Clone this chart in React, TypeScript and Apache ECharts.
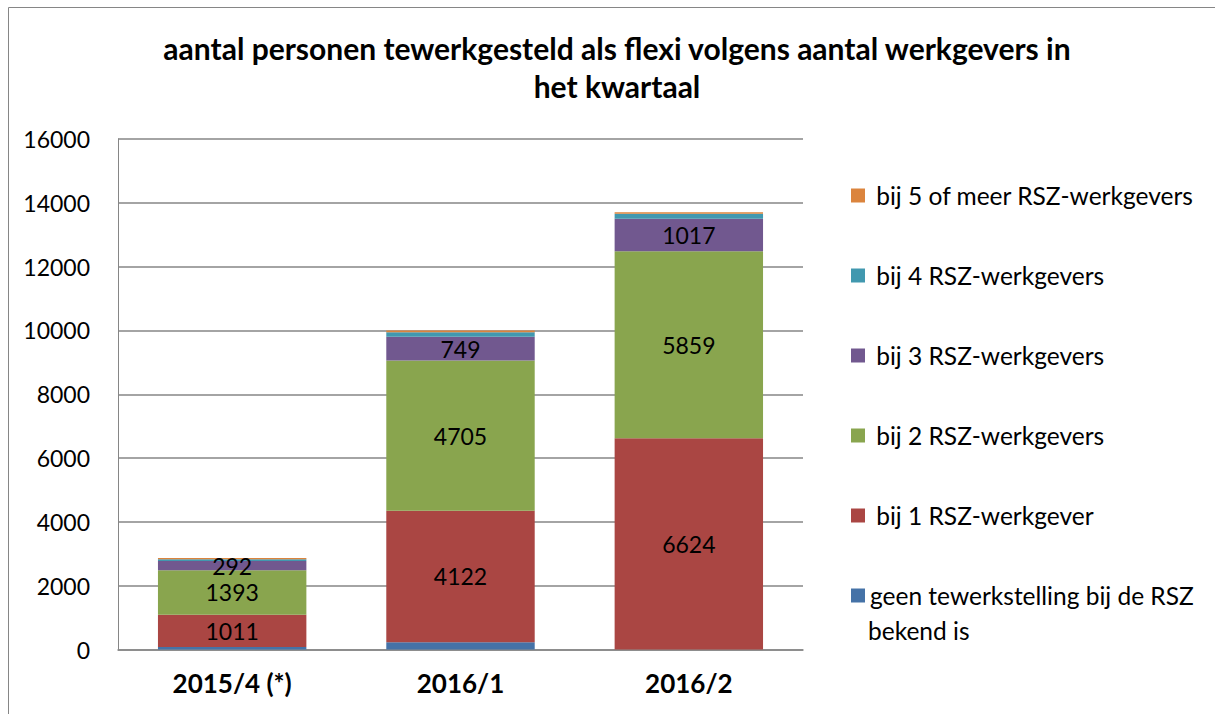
import React, { useEffect, useRef } from "react";
import * as echarts from "echarts";

const categories = ["2015/4 (*)", "2016/1", "2016/2"];
const seriesNames = [
  "geen tewerkstelling bij de RSZ bekend is",
  "bij 1 RSZ-werkgever",
  "bij 2 RSZ-werkgevers",
  "bij 3 RSZ-werkgevers",
  "bij 4 RSZ-werkgevers",
  "bij 5 of meer RSZ-werkgevers",
];
const geenValues = [80, 230, 0];
const bij1Values = [1011, 4122, 6624];
const bij2Values = [1393, 4705, 5859];
const bij3Values = [292, 749, 1017];
const bij4Values = [55, 140, 155];
const bij5Values = [40, 55, 50];
const labelled = [false, true, true, true, false, false];
const colors = ["#4572A7", "#AA4643", "#89A54E", "#71588F", "#4198AF", "#DB843D"];
const yTicks = { min: 0, max: 16000, interval: 2000 };
const titleText =
  "aantal personen tewerkgesteld als flexi volgens aantal werkgevers in\nhet kwartaal";

const FONT = "Lato, 'Open Sans', sans-serif";

export default function App() {
  const ref = useRef<HTMLDivElement>(null);
  useEffect(() => {
    if (!ref.current) return;
    const chart = echarts.init(ref.current, undefined, { renderer: "svg" });
    const allValues = [geenValues, bij1Values, bij2Values, bij3Values, bij4Values, bij5Values];
    const series = allValues.map((vals, i) => ({
      name: seriesNames[i],
      type: "bar",
      stack: "total",
      barWidth: "65%",
      data: vals,
      itemStyle: { color: colors[i] },
      label: labelled[i]
        ? {
            show: true,
            position: "inside",
            color: "#000",
            fontFamily: FONT,
            fontSize: 23,
          }
        : { show: false },
    }));
    chart.setOption({
      animation: false,
      backgroundColor: "#fff",
      title: {
        text: titleText,
        left: 612,
        textAlign: "center",
        top: 24,
        textStyle: {
          fontFamily: FONT,
          fontWeight: "bold",
          fontSize: 30,
          lineHeight: 38,
          color: "#000",
        },
      },
      grid: { left: 118, top: 139, right: 412, bottom: 64.5, containLabel: false },
      legend: {
        orient: "vertical",
        left: 846,
        top: 178,
        itemWidth: 14,
        itemHeight: 14,
        itemGap: 55,
        icon: "rect",
        data: [...seriesNames].reverse(),
        formatter: (name: string) =>
          name === seriesNames[0] ? "geen tewerkstelling bij de RSZ" : " " + name,
        textStyle: { fontFamily: FONT, fontSize: 24.5, color: "#000" },
      },
      graphic: [
        {
          type: "rect",
          shape: { x: 8.5, y: 7.5, width: 1300, height: 800 },
          style: { fill: "none", stroke: "#868686", lineWidth: 1 },
          silent: true,
        },
        {
          type: "text",
          x: 868,
          y: 630,
          style: {
            text: "bekend is",
            fontFamily: FONT,
            fontSize: 24.5,
            fill: "#000",
            verticalAlign: "middle",
          },
        },
      ],
      xAxis: {
        type: "category",
        data: categories,
        axisTick: { show: false },
        axisLine: { show: true, lineStyle: { color: "#868686", width: 1.5 } },
        axisLabel: {
          margin: 20,
          fontFamily: FONT,
          fontWeight: "bold",
          fontSize: 26,
          color: "#000",
        },
      },
      yAxis: {
        type: "value",
        min: yTicks.min,
        max: yTicks.max,
        interval: yTicks.interval,
        axisLine: { show: true, lineStyle: { color: "#868686", width: 1 } },
        axisTick: { show: false },
        splitLine: { lineStyle: { color: "#868686", width: 1.5 } },
        axisLabel: {
          margin: 28,
          fontFamily: FONT,
          fontSize: 23,
          color: "#000",
          formatter: (v: number) => String(v),
        },
      },
      series,
    });
    return () => chart.dispose();
  }, []);
  return (
    <div
      ref={ref}
      style={{ position: "absolute", left: 0, top: 0, width: 1215, height: 714 }}
    />
  );
}
